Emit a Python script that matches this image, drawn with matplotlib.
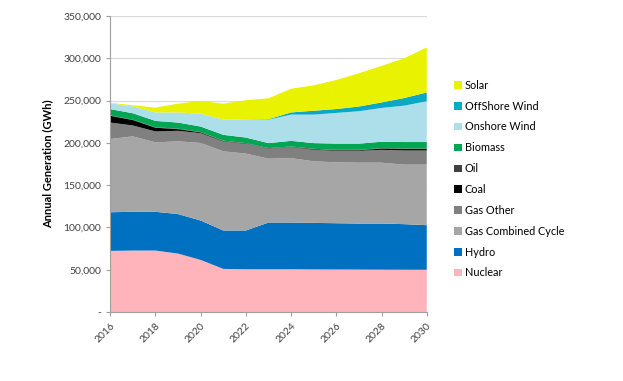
import numpy as np
import matplotlib.pyplot as plt
from matplotlib.ticker import FuncFormatter
from matplotlib.patches import Patch

plt.rcParams['font.family'] = ['Lato', 'DejaVu Sans']

# ------------------
# Data (GWh)
# ------------------
years = np.arange(2016, 2031)

nuclear = [72300, 72700, 72700, 69100, 61600, 51000, 50600, 50600, 50600, 50400, 50300, 50200, 50100, 50000, 50000]
hydro = [45700, 45800, 45800, 46700, 46600, 45400, 45800, 55200, 55200, 55000, 54700, 54400, 54500, 53900, 52700]
gas_cc = [86600, 89200, 82100, 86000, 91700, 93600, 90900, 75500, 76200, 72800, 72000, 72000, 72000, 70400, 71600]
gas_other = [19400, 12900, 12900, 12500, 11600, 11600, 11700, 11700, 13000, 13600, 13600, 14000, 15200, 16700, 16700]
coal = [8000, 6400, 4400, 2000, 900, 500, 300, 300, 300, 700, 700, 700, 1500, 1900, 1900]
oil = [500, 500, 500, 500, 500, 500, 400, 500, 500, 500, 500, 500, 500, 500, 500]
biomass = [7400, 7500, 7600, 7200, 6400, 6900, 6600, 5900, 6600, 6700, 7200, 7200, 7600, 7600, 7600]
onshore = [7000, 8000, 10000, 12000, 15200, 18000, 21700, 27800, 31000, 33700, 36400, 38400, 39900, 43000, 48200]
offshore = [0, 0, 0, 0, 0, 0, 0, 500, 2600, 4600, 4600, 5600, 6500, 9000, 10400]
solar = [500, 1500, 5700, 10400, 15100, 18900, 22400, 24700, 28000, 30000, 34400, 39300, 43200, 47000, 53200]

labels = ['Nuclear', 'Hydro', 'Gas Combined Cycle', 'Gas Other', 'Coal', 'Oil',
          'Biomass', 'Onshore Wind', 'OffShore Wind', 'Solar']
colors = ['#FFB3BA', '#0070C0', '#A6A6A6', '#808080', '#000000', '#404040',
          '#00A651', '#ADDFEA', '#0BA8C6', '#E9F200']

fig = plt.figure(figsize=(6.23, 3.81), dpi=100)
ax = fig.add_axes([0.177, 0.181, 0.508, 0.777])

ax.stackplot(years, nuclear, hydro, gas_cc, gas_other, coal, oil, biomass,
             onshore, offshore, solar, colors=colors, linewidth=0, zorder=2)

ax.set_xlim(2016, 2030)
ax.set_ylim(0, 350000)
ax.set_yticks(np.arange(0, 350001, 50000))
ax.yaxis.set_major_formatter(FuncFormatter(lambda v, p: '-' if v == 0 else f'{int(v):,}'))
ax.set_xticks(np.arange(2016, 2031, 2))
ax.tick_params(axis='x', labelrotation=45, labelsize=7.5, length=3)
ax.tick_params(axis='y', labelsize=7.5, length=3)
for lab in ax.get_xticklabels():
    lab.set_ha('right')
    lab.set_rotation_mode('anchor')

ax.grid(axis='y', color='#D9D9D9', linewidth=0.8, zorder=0)
ax.set_axisbelow(True)
for s in ['top', 'right']:
    ax.spines[s].set_visible(False)
for s in ['left', 'bottom']:
    ax.spines[s].set_color('#A0A0A0')
    ax.spines[s].set_linewidth(0.8)
ax.tick_params(colors='#A0A0A0', labelcolor='#404040')

ax.set_ylabel('Annual Generation (GWh)', fontsize=8, fontweight='bold', labelpad=7)

handles = [Patch(facecolor=c, label=l) for l, c in zip(labels, colors)][::-1]
fig.legend(handles=handles, loc='upper left', bbox_to_anchor=(0.722, 0.802),
           frameon=False, fontsize=7.8, handlelength=0.7, handleheight=0.7,
           handletextpad=0.3, labelspacing=0.91, borderaxespad=0)

plt.savefig('out.png', dpi=100)
